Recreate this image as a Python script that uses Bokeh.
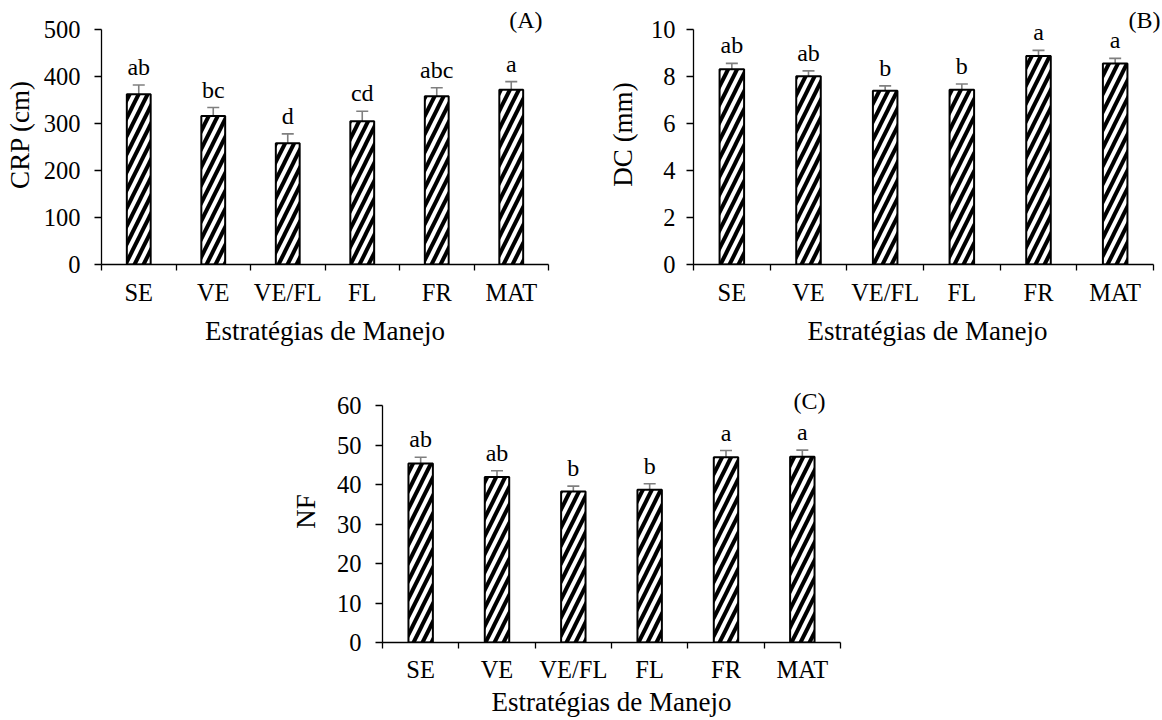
from bokeh.plotting import figure
from bokeh.layouts import row, column, Spacer
from bokeh.models import Range1d, FixedTicker, Whisker, ColumnDataSource, Label, TeeHead
from bokeh.core.properties import value
from bokeh.embed import file_html
from bokeh.resources import INLINE

# ---------------- data ----------------
categories = ["SE", "VE", "VE/FL", "FL", "FR", "MAT"]

crp = [362, 316, 258, 305, 358, 372]
crp_err = [20, 18, 20, 21, 18, 17]
crp_letters = ["ab", "bc", "d", "cd", "abc", "a"]
crp_ticks = [0, 100, 200, 300, 400, 500]

dc = [8.31, 8.01, 7.39, 7.44, 8.87, 8.55]
dc_err = [0.25, 0.23, 0.21, 0.24, 0.24, 0.22]
dc_letters = ["ab", "ab", "b", "b", "a", "a"]
dc_ticks = [0, 2, 4, 6, 8, 10]

nf = [45.3, 41.9, 38.2, 38.7, 46.9, 47.0]
nf_err = [1.6, 1.6, 1.4, 1.5, 1.7, 1.7]
nf_letters = ["ab", "ab", "b", "b", "a", "a"]
nf_ticks = [0, 10, 20, 30, 40, 50, 60]

FONT = "Liberation Serif"
GRAY = "#7f7f7f"


def make_panel(vals, errs, letters, yticks, ylabel, tag, width, height,
               bl, br, bt, bb, axis_w, axis_h, pad_top, pad_right,
               ylab_standoff, ytick_standoff, xtick_standoff, xlab_standoff,
               tag_dx, tag_dy):
    n = len(categories)
    xs = [i + 0.5 for i in range(n)]
    src = ColumnDataSource(dict(
        x=xs, top=vals,
        upper=[v + e for v, e in zip(vals, errs)],
        lower=[v - e for v, e in zip(vals, errs)],
        lab=letters,
    ))
    ymax = yticks[-1]
    # frame extends a little beyond the axes so the panel tag fits inside it
    x_end = n * (axis_w + pad_right) / axis_w
    y_end = ymax * (axis_h + pad_top) / axis_h
    p = figure(width=width, height=height,
               x_range=Range1d(0, x_end), y_range=Range1d(yticks[0], y_end),
               output_backend="svg", toolbar_location=None,
               min_border_left=bl, min_border_right=br,
               min_border_top=bt, min_border_bottom=bb)
    p.grid.visible = False
    p.outline_line_color = None
    p.background_fill_color = "white"

    p.vbar(x="x", top="top", bottom=0, width=0.32, source=src,
           fill_color="white", line_color="black", line_width=2,
           hatch_pattern="right_diagonal_line", hatch_color="black",
           hatch_weight=4, hatch_scale=18)

    w = Whisker(source=src, base="x", upper="upper", lower="lower",
                line_color=GRAY, line_width=1.6,
                upper_head=TeeHead(size=12, line_color=GRAY, line_width=1.6),
                lower_head=TeeHead(size=12, line_color=GRAY, line_width=1.6))
    p.add_layout(w)

    p.text(x="x", y="upper", text="lab", source=src, text_align="center",
           text_baseline="alphabetic", y_offset=-18,
           text_font=value(FONT), text_font_size="24px", text_color="black")

    # x axis: labels at category centres, ticks at category boundaries
    xa = p.xaxis[0]
    xa.bounds = (0, n)
    xa.ticker = FixedTicker(ticks=xs, minor_ticks=list(range(n + 1)))
    xa.major_label_overrides = {x: c for x, c in zip(xs, categories)}
    xa.major_tick_line_color = None
    xa.major_tick_out = 0
    xa.major_tick_in = 0
    xa.minor_tick_line_color = "black"
    xa.minor_tick_line_width = 1.3
    xa.minor_tick_out = 6
    xa.minor_tick_in = 0
    xa.axis_line_color = "black"
    xa.axis_line_width = 1.3
    xa.major_label_text_font = FONT
    xa.major_label_text_font_size = "24.5px"
    xa.major_label_text_color = "black"
    xa.major_label_standoff = xtick_standoff
    xa.axis_label = "Estratégias de Manejo"
    xa.axis_label_text_font = FONT
    xa.axis_label_text_font_size = "27px"
    xa.axis_label_text_font_style = "normal"
    xa.axis_label_text_color = "black"
    xa.axis_label_standoff = xlab_standoff

    ya = p.yaxis[0]
    ya.bounds = (yticks[0], ymax)
    ya.ticker = FixedTicker(ticks=yticks)
    ya.major_tick_out = 7
    ya.major_tick_in = 0
    ya.major_tick_line_color = "black"
    ya.major_tick_line_width = 1.3
    ya.minor_tick_line_color = None
    ya.axis_line_color = "black"
    ya.axis_line_width = 1.3
    ya.major_label_text_font = FONT
    ya.major_label_text_font_size = "24.5px"
    ya.major_label_text_color = "black"
    ya.major_label_standoff = ytick_standoff
    ya.axis_label = ylabel
    ya.axis_label_text_font = FONT
    ya.axis_label_text_font_size = "27px"
    ya.axis_label_text_font_style = "normal"
    ya.axis_label_text_color = "black"
    ya.axis_label_standoff = ylab_standoff

    p.add_layout(Label(x=n, y=ymax, x_units="data", y_units="data",
                       x_offset=tag_dx, y_offset=tag_dy, text=tag,
                       text_align="right", text_baseline="middle",
                       text_font=FONT, text_font_size="24px",
                       text_color="black"))
    return p


# panel A: frame x 101..548, axis y 29..264 (frame top at 4)
pA = make_panel(crp, crp_err, crp_letters, crp_ticks, "CRP (cm)", "(A)",
                width=568, height=356, bl=101, br=20, bt=4, bb=92,
                axis_w=447, axis_h=235, pad_top=25, pad_right=0,
                ylab_standoff=6, ytick_standoff=14, xtick_standoff=8,
                xlab_standoff=7, tag_dx=-6, tag_dy=10)
# panel B: frame x 693..1161, axis x 693..1153
pB = make_panel(dc, dc_err, dc_letters, dc_ticks, "DC (mm)", "(B)",
                width=594, height=356, bl=125, br=1, bt=4, bb=92,
                axis_w=460, axis_h=235, pad_top=25, pad_right=8,
                ylab_standoff=10, ytick_standoff=11, xtick_standoff=8,
                xlab_standoff=7, tag_dx=7, tag_dy=10)
# panel C: frame x 382..840, axis y 405..642
pC = make_panel(nf, nf_err, nf_letters, nf_ticks, "NF", "(C)",
                width=588, height=364, bl=110, br=20, bt=24, bb=78,
                axis_w=458, axis_h=237, pad_top=25, pad_right=0,
                ylab_standoff=13, ytick_standoff=14, xtick_standoff=7,
                xlab_standoff=1, tag_dx=-15, tag_dy=5)

layout = column(row(pA, pB), row(Spacer(width=272, height=364), pC))

open("out.html", "w").write(file_html(layout, INLINE))
